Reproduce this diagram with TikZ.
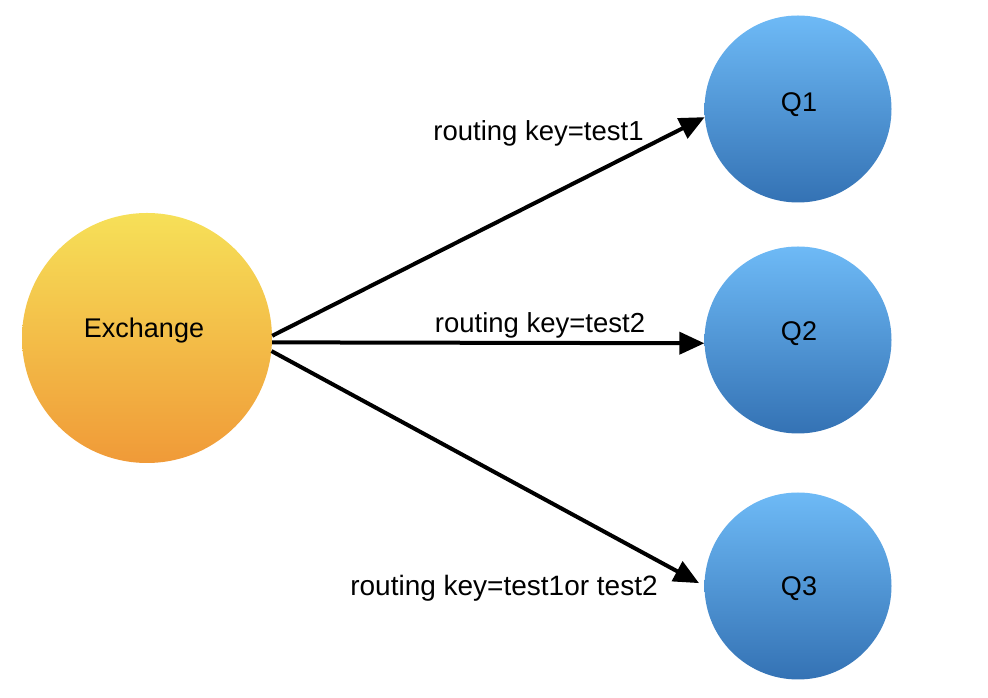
\documentclass[tikz,border=0pt]{standalone}
\usepackage{fontspec}
\setmainfont{Liberation Sans}
\usetikzlibrary{arrows.meta}
\definecolor{exTop}{RGB}{246,224,88}
\definecolor{exBot}{RGB}{240,154,56}
\definecolor{qTop}{RGB}{110,186,246}
\definecolor{qBot}{RGB}{52,114,180}
\tikzset{
  exnode/.style={circle, inner sep=0pt, minimum size=250pt, top color=exTop, bottom color=exBot, font=\fontsize{27}{32}\selectfont},
  qnode/.style={circle, inner sep=0pt, minimum size=187pt, top color=qTop, bottom color=qBot, font=\fontsize{27}{32}\selectfont},
  conn/.style={line width=4pt, -{Triangle[length=25pt,width=22pt]}},
  lbl/.style={anchor=base, inner sep=0pt, font=\fontsize{27.5}{32}\selectfont},
  ntxt/.style={anchor=base, inner sep=0pt, font=\fontsize{27}{32}\selectfont}
}
\begin{document}
\begin{tikzpicture}[x=1pt,y=1pt]
\useasboundingbox (0,0) rectangle (988,698);
\node[exnode] (ex) at (147,360) {};
\node[qnode] (q1) at (798,589) {};
\node[qnode] (q2) at (798,358) {};
\node[qnode] (q3) at (798,112) {};
\node[ntxt] (extxt) at (144,360) {Exchange};
\node[ntxt] (q1txt) at (799,586) {Q1};
\node[ntxt] (q2txt) at (799,357) {Q2};
\node[ntxt] (q3txt) at (799,102) {Q3};
\draw[conn] (ex.1.4) -- (q1.185);
\draw[conn] (ex.-2.3) -- (q2.182);
\draw[conn, shorten >=6pt] (ex.-6.4) -- (q3.180);
\node[lbl] (l1) at (538.5,557) {routing key=test1};
\node[lbl] (l2) at (540,365) {routing key=test2};
\node[lbl, font=\fontsize{28}{32}\selectfont] (l3) at (504,102) {routing key=test1or test2};
\end{tikzpicture}
\end{document}
